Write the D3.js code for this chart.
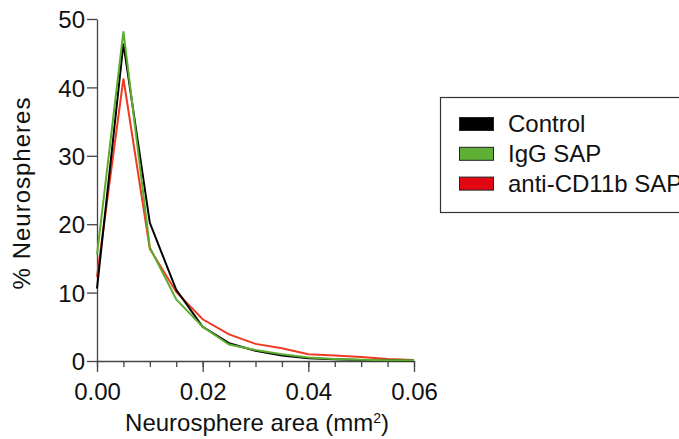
<!DOCTYPE html>
<html>
<meta http-equiv="content-type" content="text/html; charset=utf-8" />
<head>
  <title>Neurosphere area</title>
</head>
<style>
body { margin: 0; background: #fff; }
svg text { font-family: "Liberation Sans", Arial, sans-serif; fill: #111; }
.axis path, .axis line { fill: none; stroke: #444; stroke-width: 1.3px; }
.axis text { font-size: 24px; }
.series { fill: none; stroke-width: 2px; stroke-linejoin: miter; }
</style>
<body>
<svg class="chart" width="679" height="439"></svg>
<script src="https://cdnjs.cloudflare.com/ajax/libs/d3/7.8.5/d3.min.js"></script>
<script>
// x positions (mm^2)
var areas = [0, 0.005, 0.01, 0.015, 0.02, 0.025, 0.03, 0.035, 0.04, 0.045, 0.05, 0.055, 0.06];
var controlVals = [10.6, 46.4, 20.2, 10.4, 5.0, 2.6, 1.5, 0.8, 0.4, 0.25, 0.15, 0.1, 0.05];
var iggVals     = [15.5, 48.2, 16.6, 9.0, 5.0, 2.4, 1.6, 1.0, 0.5, 0.3, 0.2, 0.1, 0.1];
var cd11bVals   = [12.3, 41.3, 16.4, 10.1, 6.1, 3.9, 2.5, 1.85, 1.0, 0.8, 0.6, 0.3, 0.15];
var seriesNames = ["Control", "IgG SAP", "anti-CD11b SAP"];
var xTicks = [0, 0.02, 0.04, 0.06];
var yTicks = [0, 10, 20, 30, 40, 50];

var lineColors = ["#000000", "#5aad2e", "#ef3a22"];
var swatchColors = ["#000000", "#5fb035", "#e30613"];

var margin = {top: 19, left: 97},
    width = 317,
    height = 342;

var svg = d3.select(".chart");
var chart = svg.append("g")
  .attr("transform", "translate(" + margin.left + "," + margin.top + ")");

var x = d3.scaleLinear().domain([0, 0.06]).range([0, width]);
var y = d3.scaleLinear().domain([0, 50]).range([height, 0]);

// minor x ticks every 0.005
chart.append("g")
  .attr("class", "axis")
  .attr("transform", "translate(0," + height + ")")
  .call(d3.axisBottom(x).tickValues(d3.range(13).map(function(i) { return i * 0.005; }))
    .tickSize(6).tickFormat(""))
  .select(".domain").remove();

chart.append("g")
  .attr("class", "x axis")
  .attr("transform", "translate(0," + height + ")")
  .call(d3.axisBottom(x).tickValues(xTicks).tickSize(11).tickSizeOuter(0).tickPadding(11)
    .tickFormat(d3.format(".2f")));

chart.append("g")
  .attr("class", "y axis")
  .call(d3.axisLeft(y).tickValues(yTicks).tickSize(10).tickSizeOuter(0).tickPadding(2)
    .tickFormat(d3.format("d")))
  .selectAll("text").attr("dy", "0.36em");

var data = [controlVals, iggVals, cd11bVals];
var line = d3.line()
  .x(function(d, i) { return x(areas[i]); })
  .y(function(d) { return y(d); });

// draw red first so green and black sit on top
[2, 0, 1].forEach(function(k) {
  chart.append("path")
    .datum(data[k])
    .attr("class", "series")
    .attr("stroke", lineColors[k])
    .attr("d", line);
});

// axis titles
var xt = svg.append("text")
  .attr("x", 257)
  .attr("y", 431)
  .attr("text-anchor", "middle")
  .style("font-size", "24px");
xt.append("tspan").text("Neurosphere area (mm");
xt.append("tspan").attr("dy", "-8").style("font-size", "14px").text("2");
xt.append("tspan").attr("dy", "8").text(")");

svg.append("text")
  .attr("transform", "translate(30,193) rotate(-90)")
  .attr("text-anchor", "middle")
  .style("font-size", "24px")
  .style("letter-spacing", "1px")
  .text("% Neurospheres");

// legend
var legend = svg.append("g");
legend.append("rect")
  .attr("x", 440.5).attr("y", 97.5)
  .attr("width", 260).attr("height", 115)
  .attr("fill", "none").attr("stroke", "#333").attr("stroke-width", 1.2);

var item = legend.selectAll(".item")
  .data(seriesNames).enter()
  .append("g")
  .attr("transform", function(d, i) { return "translate(0," + (117 + i * 29.8) + ")"; });

item.append("rect")
  .attr("x", 459.5).attr("y", 0.5)
  .attr("width", 34).attr("height", 13)
  .attr("fill", function(d, i) { return swatchColors[i]; })
  .attr("stroke", "#222").attr("stroke-width", 1);

item.append("text")
  .attr("x", 508)
  .attr("y", 15)
  .style("font-size", "24px")
  .text(function(d) { return d; });
</script>
</body>
</html>
